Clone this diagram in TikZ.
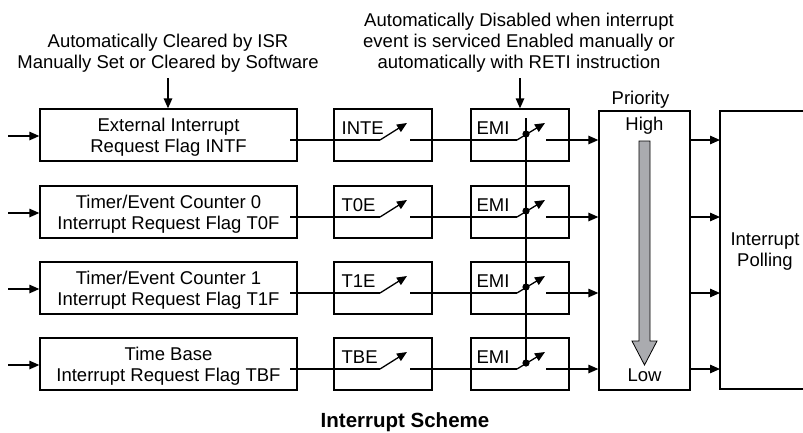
\documentclass[tikz,border=0pt]{standalone}
\usepackage{fontspec}
\setmainfont{Liberation Sans}
\usetikzlibrary{arrows.meta}
\definecolor{arrowgray}{RGB}{170,171,175}
\begin{document}
\begin{tikzpicture}[x=1pt,y=-1pt,line width=1.3pt,
  txt/.style={font=\fontsize{18.5}{21}\selectfont,align=center,inner sep=0pt},
  box/.style={draw,inner sep=0pt},
  arr/.style={-{Triangle[length=10pt,width=8.5pt]}}]
\useasboundingbox (0,0) rectangle (803,432);

% top annotations
\node[txt] (t1) at (168,53.7) {Automatically Cleared by ISR\\Manually Set or Cleared by Software};
\node[txt] (t2) at (519,43.2) {Automatically Disabled when interrupt\\event is serviced Enabled manually or\\automatically with RETI instruction};

% priority box
\node[box,minimum width=91pt,minimum height=279pt] (pr) at (644.5,250.5) {};
\node[txt,anchor=base] (prt) at (640.5,104) {Priority};
\node[txt,anchor=base] (hi) at (644.5,130.5) {High};
\node[txt,anchor=base] (lo) at (644.5,381.5) {Low};
\draw[line width=0.8pt,fill=arrowgray] (639,141) -- (650,141) -- (650,341) -- (657,341)
  -- (644.5,365) -- (632,341) -- (639,341) -- cycle;

% polling box
\coordinate (plne) at (803,111);
\coordinate (plnw) at (720,111);
\coordinate (plsw) at (720,389);
\coordinate (plse) at (803,389);
\draw (plne) -- (plnw) -- (plsw) -- (plse);
\node[txt] (plt) at (765,251.7) {Interrupt\\Polling};

\foreach \i/\c/\la/\lb/\en in {
  1/135/{External Interrupt}/{Request Flag INTF}/INTE,
  2/212/{Timer/Event Counter 0}/{Interrupt Request Flag T0F}/T0E,
  3/288/{Timer/Event Counter 1}/{Interrupt Request Flag T1F}/T1E,
  4/364/{Time Base}/{Interrupt Request Flag TBF}/TBE}{
  \pgfmathsetmacro\s{\c+5}
  \node[box,minimum width=257pt,minimum height=52pt] (f\i) at (168.5,\c) {};
  \node[txt] (ft\i) at (168.5,\c+2.7) {\la\\\lb};
  \node[box,minimum width=98pt,minimum height=52pt] (e\i) at (383,\c) {};
  \node[txt,anchor=base west] (el\i) at (341,\c-1) {\en};
  \node[box,minimum width=98pt,minimum height=52pt] (m\i) at (520,\c) {};
  \node[txt,anchor=base west] (ml\i) at (476,\c-1) {EMI};
  \coordinate (in\i) at (8,\c+1);
  \coordinate (fo\i) at (290,\s);
  \coordinate (ep\i) at (380,\s);
  \coordinate (ea\i) at (407,\s-17);
  \coordinate (eo\i) at (410,\s);
  \coordinate (mp\i) at (517,\s);
  \coordinate (ma\i) at (545,\s-17);
  \coordinate (md\i) at (526,\s-6);
  \coordinate (mo\i) at (546,\s);
  \draw[arr] (in\i) -- (in\i -| f\i.west);
  \draw (fo\i) -- (ep\i);
  \draw[arr] (ep\i) -- (ea\i);
  \draw (eo\i) -- (mp\i);
  \draw[arr] (mp\i) -- (ma\i);
  \fill (md\i) circle (3.6pt);
  \draw[arr] (mo\i) -- (mo\i -| pr.west);
  \draw[arr] (mo\i -| pr.east) -- (mo\i -| plnw);
}

% vertical EMI control line
\coordinate (vt) at (526,118);
\draw (vt) -- (md4);

% top arrows
\coordinate (a1) at (168,78);
\draw[arr] (a1) -- (a1 |- f1.north);
\coordinate (a2) at (520,78);
\draw[arr] (a2) -- (a2 |- m1.north);

% title
\node[font=\bfseries\fontsize{20.5}{24}\selectfont,anchor=base,inner sep=0pt] (title) at (405,427) {Interrupt Scheme};
\end{tikzpicture}
\end{document}
